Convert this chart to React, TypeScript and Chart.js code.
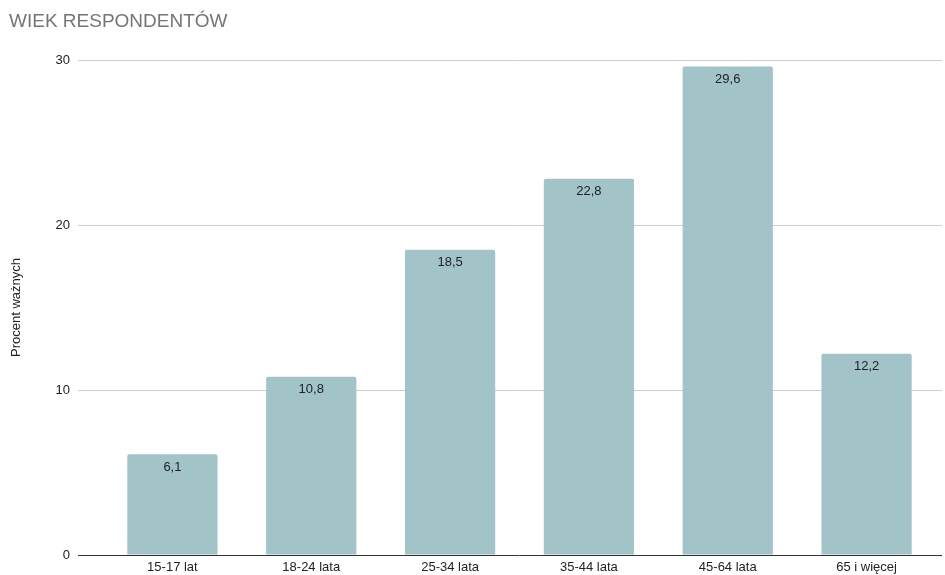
import React, { useEffect, useRef } from "react";
import { Chart, registerables } from "chart.js";

Chart.register(...registerables);

const categories = ["15-17 lat", "18-24 lata", "25-34 lata", "35-44 lata", "45-64 lata", "65 i więcej"];
const values = [6.1, 10.8, 18.5, 22.8, 29.6, 12.2];
const yTicks = [0, 10, 20, 30];
const titleText = "WIEK RESPONDENTÓW";
const yTitle = "Procent ważnych";

const FONT = "'Liberation Sans', Arial, sans-serif";

const valueLabels = {
  id: "valueLabels",
  afterDatasetsDraw(chart: any) {
    const ctx = chart.ctx;
    const meta = chart.getDatasetMeta(0);
    ctx.save();
    ctx.font = `13px ${FONT}`;
    ctx.fillStyle = "#222222";
    ctx.textAlign = "center";
    ctx.textBaseline = "middle";
    meta.data.forEach((bar: any, i: number) => {
      const v = chart.data.datasets[0].data[i] as number;
      ctx.fillText(v.toFixed(1).replace(".", ","), bar.x, bar.y + 13);
    });
    ctx.restore();
  },
};

// extends the y gridlines a few pixels past the right edge of the plot area
const gridExtend = {
  id: "gridExtend",
  beforeDatasetsDraw(chart: any) {
    const ctx = chart.ctx;
    const y = chart.scales.y;
    const right = chart.chartArea.right;
    ctx.save();
    ctx.lineWidth = 1;
    yTicks.forEach((v) => {
      const py = Math.round(y.getPixelForValue(v)) + 0.5;
      ctx.strokeStyle = v === 0 ? "#333333" : "#cccccc";
      ctx.beginPath();
      ctx.moveTo(right, py);
      ctx.lineTo(right + 6, py);
      ctx.stroke();
    });
    ctx.restore();
  },
};

export default function App() {
  const ref = useRef<HTMLCanvasElement>(null);
  useEffect(() => {
    if (!ref.current) return;
    const chart = new Chart(ref.current, {
      type: "bar",
      data: {
        labels: categories,
        datasets: [
          {
            data: values,
            backgroundColor: "#a2c4c9",
            borderRadius: 2,
            borderSkipped: "bottom",
            categoryPercentage: 1,
            barPercentage: 0.65,
          },
        ],
      },
      options: {
        animation: false,
        responsive: false,
        layout: { padding: { left: 9, right: 9, top: 0, bottom: 0 } },
        plugins: {
          legend: { display: false },
          tooltip: { enabled: false },
          title: {
            display: true,
            text: titleText,
            align: "start",
            color: "#757575",
            font: { family: FONT, size: 19, weight: "normal" },
            padding: { top: 10, bottom: 27.2 },
          },
        },
        scales: {
          x: {
            grid: { display: false, drawTicks: false },
            border: { display: false },
            ticks: {
              color: "#222222",
              font: { family: FONT, size: 13 },
              padding: 5,
              maxRotation: 0,
            },
            afterFit: (s: any) => {
              s.height = 20;
            },
          },
          y: {
            min: 0,
            max: 30,
            afterBuildTicks: (s: any) => {
              s.ticks = yTicks.map((v) => ({ value: v }));
            },
            grid: {
              color: (c: any) => (c.tick && c.tick.value === 0 ? "#333333" : "#cccccc"),
              tickLength: 25,
              lineWidth: 1,
            },
            border: { display: false },
            ticks: {
              color: "#222222",
              font: { family: FONT, size: 13 },
              padding: 8,
            },
            title: {
              display: true,
              text: yTitle,
              color: "#222222",
              font: { family: FONT, size: 13 },
              padding: 0,
            },
            afterFit: (s: any) => {
              s.width = 94;
            },
          },
        },
      },
      plugins: [gridExtend, valueLabels],
    });
    return () => chart.destroy();
  }, []);
  return (
    <div style={{ position: "fixed", left: 0, top: 0, width: 945, height: 575, background: "#fff" }}>
      <canvas ref={ref} width={945} height={575} style={{ display: "block" }} />
    </div>
  );
}
